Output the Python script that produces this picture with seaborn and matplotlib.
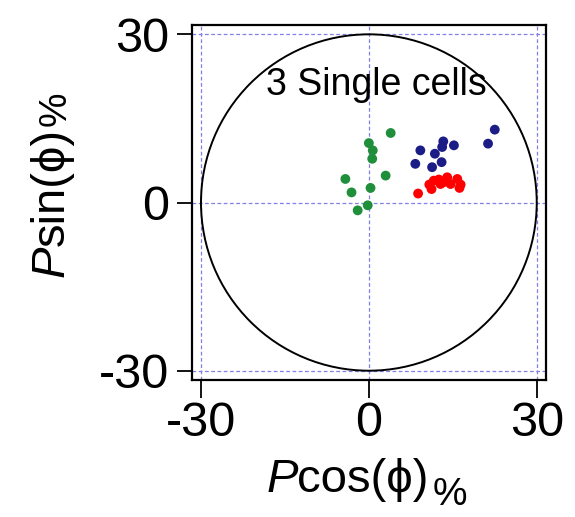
import matplotlib
matplotlib.use("Agg")
import matplotlib.pyplot as plt
import matplotlib.patches as mpatches
import seaborn as sns
import pandas as pd

# ---- data ----
green_x = [3.9, 0.0, 0.7, 0.6, 3.0, -4.2, 0.3, -3.1, -0.2, -2.0]
green_y = [12.4, 10.6, 9.3, 7.8, 4.8, 4.2, 2.6, 1.8, -0.5, -1.4]
blue_x = [22.5, 21.3, 13.3, 13.1, 15.2, 9.2, 11.8, 13.0, 8.3, 11.3]
blue_y = [13.0, 10.5, 10.9, 9.9, 10.2, 9.3, 8.7, 7.2, 6.9, 6.3]
red_x = [8.8, 10.8, 11.2, 11.6, 12.5, 12.8, 13.3, 14.0, 14.6, 15.8, 16.4, 16.2]
red_y = [1.6, 3.2, 2.4, 3.9, 4.1, 3.3, 3.6, 4.5, 3.3, 4.2, 3.2, 2.6]
ticks = [-30, 0, 30]
circle_radius = 30
annotation = "3 Single cells"
xlabel_parts = ["P", "cos(ϕ)", "%"]
ylabel_parts = ["P", "sin(ϕ)", "%"]

df = pd.DataFrame({
    "x": green_x + blue_x + red_x,
    "y": green_y + blue_y + red_y,
    "cell": ["g"] * len(green_x) + ["b"] * len(blue_x) + ["r"] * len(red_x),
})
palette = {"g": "#1f8f3c", "b": "#1c1c86", "r": "#ff0000"}

sns.set_style("ticks")
plt.rcParams["font.family"] = ["Liberation Sans", "DejaVu Sans"]
for k in ["text.color", "axes.labelcolor", "xtick.color", "ytick.color",
          "xtick.labelcolor", "ytick.labelcolor"]:
    plt.rcParams[k] = "black"

title_family = ["Liberation Sans", "DejaVu Sans"]
title_size = 34
pct_size = 28

W, H = 575, 517
fig = plt.figure(figsize=(5.75, 5.17), dpi=100)
ax = fig.add_axes([0.3334, 0.265, 0.6162, 0.6866])

# grid lines at ticks
for t in ticks:
    ax.axhline(t, color="#8080e6", lw=0.9, ls=(0, (3, 2)), zorder=0)
    ax.axvline(t, color="#8080e6", lw=0.9, ls=(0, (3, 2)), zorder=0)

ax.add_patch(mpatches.Circle((0, 0), circle_radius, fill=False,
                             edgecolor="black", lw=1.4, zorder=1))

sns.scatterplot(data=df, x="x", y="y", hue="cell", palette=palette,
                s=50, linewidth=0, legend=False, ax=ax, zorder=3)

ax.set_xlim(-31.66, 31.66)
ax.set_ylim(-31.66, 31.66)
ax.set_xticks(ticks)
ax.set_yticks(ticks)
ax.set_xticklabels([str(t) for t in ticks])
ax.set_yticklabels([str(t) for t in ticks])
ax.tick_params(axis="both", direction="out", width=1.3,
               labelsize=35, color="black", labelcolor="black")
ax.tick_params(axis="x", pad=2, length=13)
ax.tick_params(axis="y", pad=5, length=11)
for sp in ax.spines.values():
    sp.set_linewidth(1.6)
    sp.set_color("black")
ax.set_xlabel("")
ax.set_ylabel("")

ax.text(1.3, 20.9, annotation, ha="center", va="center", fontsize=27)

# axis titles built from pieces (italic P, upright rest, smaller %)
renderer = fig.canvas.get_renderer()


def ptext(px, py, s, rot=0, **kw):
    return fig.text(px / W, py / H, s, ha="left", va="baseline",
                    rotation=rot, rotation_mode="anchor", **kw)


# x title
t1 = ptext(266.7, H - 491.7, xlabel_parts[0], family=title_family,
           style="italic", fontsize=title_size)
b1 = t1.get_window_extent(renderer)
t2 = ptext(b1.x1 - 1, H - 491.7, xlabel_parts[1], family=title_family,
           fontsize=title_size)
b2 = t2.get_window_extent(renderer)
ptext(b2.x1 + 4, H - 505, xlabel_parts[2], family=title_family,
      fontsize=pct_size)

# y title
u1 = ptext(63.3, H - 277, ylabel_parts[0], rot=90, family=title_family,
           style="italic", fontsize=title_size)
c1 = u1.get_window_extent(renderer)
u2 = ptext(63.3, c1.y1 - 1, ylabel_parts[1], rot=90, family=title_family,
           fontsize=title_size)
c2 = u2.get_window_extent(renderer)
ptext(66, c2.y1 + 2, ylabel_parts[2], rot=90, family=title_family,
      fontsize=pct_size)

fig.savefig("out.png", dpi=100, facecolor="white")
